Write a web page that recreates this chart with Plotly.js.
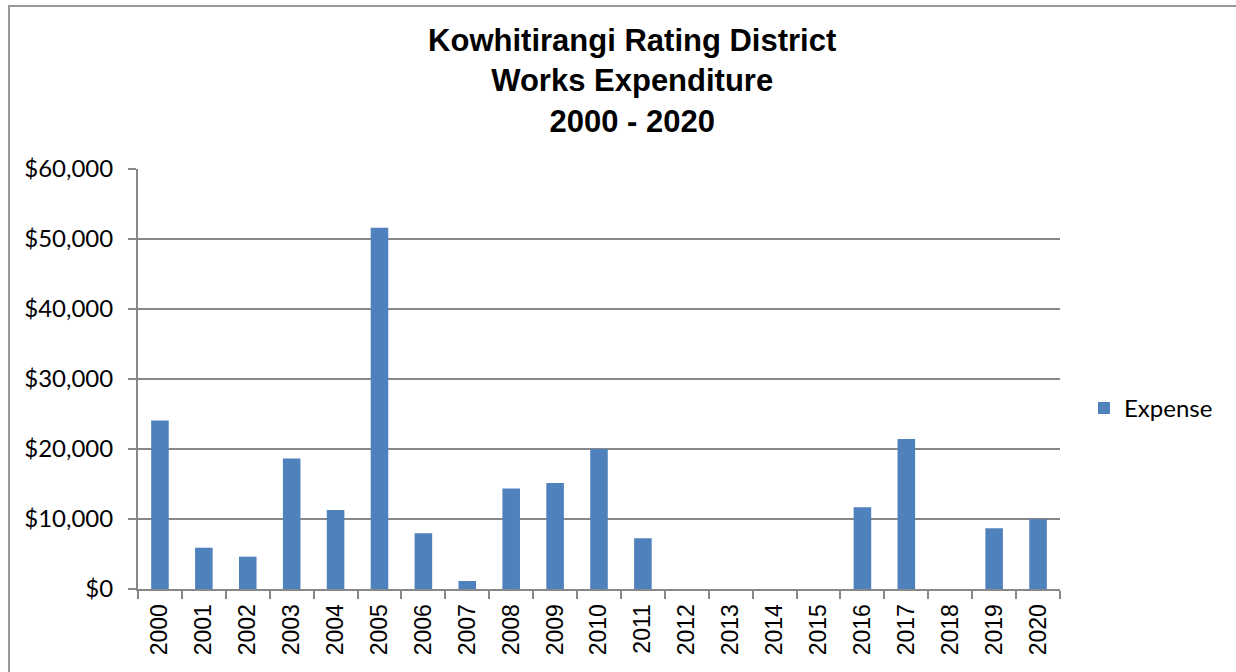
<!DOCTYPE html>
<html>
<head>
<meta charset="utf-8">
<script src="https://cdn.plot.ly/plotly-3.0.1.min.js"></script>
<style>
  html, body { margin: 0; padding: 0; background: #fff; }
  #wrap { position: relative; width: 1236px; height: 672px; overflow: hidden; }
  #frame { position: absolute; left: 8px; top: 5px; width: 1300px; height: 800px;
           border-left: 2px solid #989898; border-top: 2px solid #989898; box-sizing: border-box; pointer-events: none; z-index: 2; }
  #chart { position: absolute; left: 0; top: 0; width: 1236px; height: 672px; }
</style>
</head>
<body>
<div id="wrap">
  <div id="chart"></div>
  <div id="frame"></div>
</div>
<script>
const years = ["2000","2001","2002","2003","2004","2005","2006","2007","2008","2009","2010",
               "2011","2012","2013","2014","2015","2016","2017","2018","2019","2020"];
const expense = [24060, 5900, 4620, 18630, 11290, 51610, 7960, 1140, 14340, 15150, 20010,
                 7250, 0, 0, 0, 0, 11680, 21440, 0, 8680, 9960];
const seriesName = "Expense";
const yTickVals = [0, 10000, 20000, 30000, 40000, 50000, 60000];
const yTickText = ["$0", "$10,000", "$20,000", "$30,000", "$40,000", "$50,000", "$60,000"];
const titleText = "Kowhitirangi Rating District<br>Works Expenditure<br>2000 - 2020";

const trace = {
  type: "bar",
  x: years,
  y: expense,
  name: seriesName,
  marker: { color: "#4F81BD", line: { width: 0 } },
  showlegend: true,
  hoverinfo: "x+y"
};

const layout = {
  width: 1236,
  height: 672,
  paper_bgcolor: "#ffffff",
  plot_bgcolor: "#ffffff",
  margin: { l: 138, r: 176, t: 169, b: 83, pad: 0 },
  bargap: 0.6,
  title: {
    text: titleText,
    font: { family: "Liberation Sans, Arial, sans-serif", size: 31, color: "#000", weight: "bold" },
    x: 0.5115, xref: "container", xanchor: "center",
    y: 0.924, yref: "container", yanchor: "top"
  },
  xaxis: {
    type: "category",
    tickson: "boundaries",
    ticks: "outside",
    ticklen: 8,
    tickwidth: 2,
    tickcolor: "#888888",
    showline: true,
    linecolor: "#888888",
    linewidth: 2,
    showgrid: false,
    tickangle: -90,
    tickfont: { family: "Liberation Sans, Arial, sans-serif", size: 23, color: "#000" },
    ticklabelstandoff: 4,
    fixedrange: true
  },
  yaxis: {
    range: [0, 60000],
    tickvals: yTickVals,
    ticktext: yTickText,
    ticks: "outside",
    ticklen: 8,
    tickwidth: 2,
    tickcolor: "#888888",
    showline: true,
    linecolor: "#888888",
    linewidth: 2,
    showgrid: true,
    gridcolor: "#888888",
    gridwidth: 2,
    zeroline: false,
    tickfont: { family: "Lato, Carlito, Calibri, sans-serif", size: 24, color: "#000" },
    ticklabelstandoff: 10,
    fixedrange: true
  },
  legend: {
    x: 1.026, xanchor: "left",
    y: 0.43, yanchor: "middle",
    font: { family: "Lato, Carlito, Calibri, sans-serif", size: 24, color: "#000" },
    bgcolor: "rgba(0,0,0,0)",
    itemclick: false, itemdoubleclick: false
  },
  showlegend: true
};

Plotly.newPlot("chart", [trace], layout, { displayModeBar: false, staticPlot: true });
</script>
</body>
</html>
